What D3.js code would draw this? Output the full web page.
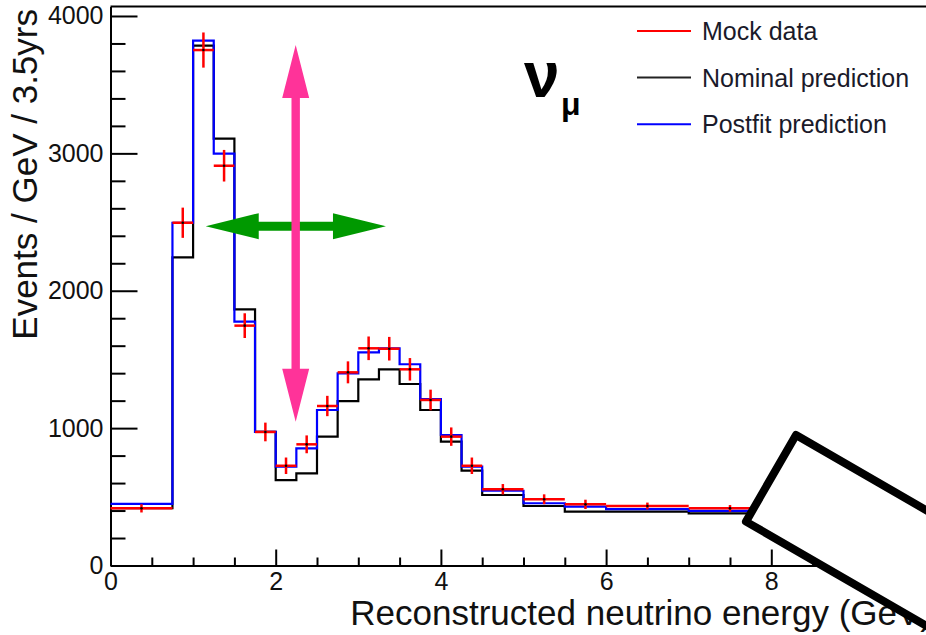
<!DOCTYPE html>
<html>
<head>
<meta charset="utf-8">
<script src="https://cdn.jsdelivr.net/npm/d3@7"></script>
<style>
  body { margin: 0; background: #fff; }
  text { font-family: "Liberation Sans", Arial, sans-serif; }
</style>
</head>
<body>
<svg id="chart" width="926" height="635"></svg>
<script>
// bin edges in GeV
const edges = [0, 0.75, 1, 1.25, 1.5, 1.75, 2, 2.25, 2.5, 2.75, 3, 3.25, 3.5, 3.75, 4, 4.25, 4.5, 5, 5.5, 6, 7, 8];

const mockData = [416, 2495, 3752, 2910, 1746, 972, 726, 882, 1161, 1406, 1581, 1578, 1428, 1205, 938, 726, 555, 482, 445, 433, 416];
const mockErr = [30, 110, 128, 115, 90, 68, 60, 65, 74, 80, 86, 86, 82, 75, 67, 60, 38, 36, 34, 25, 24];
const nominal = [418, 2243, 3784, 3107, 1865, 972, 622, 671, 938, 1197, 1355, 1428, 1321, 1132, 901, 690, 513, 433, 392, 392, 380];
const postfit = [448, 2495, 3820, 2998, 1775, 972, 719, 853, 1132, 1399, 1552, 1581, 1465, 1212, 950, 719, 544, 453, 428, 411, 397];

const xTicks = [0, 2, 4, 6, 8];
const yTicks = [0, 1000, 2000, 3000, 4000];

const legendNames = ["Mock data", "Nominal prediction", "Postfit prediction"];
const legendColors = ["#ff0000", "#222", "#0000ff"];

const svg = d3.select("#chart");

const x = d3.scaleLinear().domain([0, 10]).range([110.5, 936.5]);
const y = d3.scaleLinear().domain([0, 4069]).range([565.5, 6.5]);

// frame top line
svg.append("line")
  .attr("x1", x(0)).attr("x2", x(10))
  .attr("y1", y(4069)).attr("y2", y(4069))
  .attr("stroke", "#000").attr("stroke-width", 2);

// minor ticks
const yMinor = d3.range(0, 4001, 200).filter(d => d % 1000 !== 0);
const xMinor = d3.range(0, 10.01, 0.5).filter(d => d % 2 !== 0);

svg.append("g")
  .attr("transform", `translate(${x(0)},0)`)
  .call(d3.axisLeft(y).tickValues(yMinor).tickSizeInner(-15).tickSizeOuter(0).tickFormat(""))
  .call(g => g.select(".domain").remove())
  .selectAll("line").attr("stroke-width", 2);

svg.append("g")
  .attr("transform", `translate(0,${y(0)})`)
  .call(d3.axisBottom(x).tickValues(xMinor).tickSizeInner(-8).tickSizeOuter(0).tickFormat(""))
  .call(g => g.select(".domain").remove())
  .selectAll("line").attr("stroke-width", 2);

// major axes
const yAxis = svg.append("g")
  .attr("transform", `translate(${x(0)},0)`)
  .call(d3.axisLeft(y).tickValues(yTicks).tickFormat(d3.format("d"))
    .tickSizeInner(-27).tickSizeOuter(0).tickPadding(7));

const xAxis = svg.append("g")
  .attr("transform", `translate(0,${y(0)})`)
  .call(d3.axisBottom(x).tickValues(xTicks).tickFormat(d3.format("d"))
    .tickSizeInner(-16).tickSizeOuter(0).tickPadding(7));

[yAxis, xAxis].forEach(g => {
  g.selectAll("line, .domain").attr("stroke", "#000").attr("stroke-width", 2);
  g.selectAll("text")
    .attr("font-family", "Liberation Sans, Arial, sans-serif")
    .attr("font-size", 25)
    .attr("fill", "#111");
});

// axis titles
svg.append("text")
  .attr("x", 932).attr("y", 625)
  .attr("text-anchor", "end")
  .attr("font-size", 35)
  .attr("fill", "#111")
  .text("Reconstructed neutrino energy (GeV)");

svg.append("text")
  .attr("transform", "translate(37,9) rotate(-90)")
  .attr("text-anchor", "end")
  .attr("font-size", 35)
  .attr("fill", "#111")
  .text("Events / GeV / 3.5yrs");

// histograms as step outlines
function stepPoints(vals) {
  const pts = [];
  vals.forEach((v, i) => {
    pts.push([edges[i], v]);
    pts.push([edges[i + 1], v]);
  });
  return pts;
}

const line = d3.line().x(d => x(d[0])).y(d => y(d[1]));

svg.append("path")
  .attr("d", line(stepPoints(nominal)))
  .attr("fill", "none").attr("stroke", "#000").attr("stroke-width", 2.2);

svg.append("path")
  .attr("d", line(stepPoints(postfit)))
  .attr("fill", "none").attr("stroke", "#0000ff").attr("stroke-width", 2.2);

// mock data points with error bars
const pts = svg.append("g").selectAll("g")
  .data(mockData.map((v, i) => ({ lo: edges[i], hi: edges[i + 1], v, e: mockErr[i] })))
  .join("g");

pts.append("line")
  .attr("x1", d => x(d.lo)).attr("x2", d => x(d.hi))
  .attr("y1", d => y(d.v)).attr("y2", d => y(d.v))
  .attr("stroke", "#ff0000").attr("stroke-width", 2.5);

pts.append("line")
  .attr("x1", d => x((d.lo + d.hi) / 2)).attr("x2", d => x((d.lo + d.hi) / 2))
  .attr("y1", d => y(d.v - d.e)).attr("y2", d => y(d.v + d.e))
  .attr("stroke", "#ff0000").attr("stroke-width", 2.5);

pts.append("circle")
  .attr("cx", d => x((d.lo + d.hi) / 2)).attr("cy", d => y(d.v))
  .attr("r", 1.3).attr("fill", "#000");

// double-headed arrows
function doubleArrow(x0, y0, x1, y1, head, headHalf, shaftHalf, color) {
  const dx = x1 - x0, dy = y1 - y0, len = Math.hypot(dx, dy);
  const ux = dx / len, uy = dy / len, nx = -uy, ny = ux;
  const p = (t, s) => [x0 + ux * t + nx * s, y0 + uy * t + ny * s];
  const poly = [
    p(0, 0), p(head, headHalf), p(head, shaftHalf), p(len - head, shaftHalf),
    p(len - head, headHalf), p(len, 0), p(len - head, -headHalf), p(len - head, -shaftHalf),
    p(head, -shaftHalf), p(head, -headHalf)
  ];
  svg.append("polygon")
    .attr("points", poly.map(q => q.join(",")).join(" "))
    .attr("fill", color);
}

doubleArrow(x(1.153), y(2470), x(3.335), y(2470), 53, 13, 4.5, "#009900");
doubleArrow(x(2.242), y(3789), x(2.242), y(1047), 53, 13.5, 4.2, "#ff3399");

// nu_mu label
svg.append("text")
  .attr("x", 524).attr("y", 97)
  .attr("font-size", 64).attr("font-weight", "bold")
  .attr("fill", "#000")
  .text("ν");
svg.append("text")
  .attr("x", 561).attr("y", 115)
  .attr("font-size", 32).attr("font-weight", "bold")
  .attr("fill", "#000")
  .text("μ");

// legend
const legend = svg.append("g").selectAll("g")
  .data(legendNames)
  .join("g")
  .attr("transform", (d, i) => `translate(637,${31 + i * 46.6})`);

legend.append("line")
  .attr("x1", 0).attr("x2", 54)
  .attr("stroke", (d, i) => legendColors[i]).attr("stroke-width", 2);

legend.append("text")
  .attr("x", 65).attr("dy", "0.36em")
  .attr("font-size", 25)
  .attr("fill", "#1a1a2a")
  .text(d => d);

// white box overlay at lower right
svg.append("rect")
  .attr("transform", `translate(${x(8.299)},${y(950)}) rotate(30)`)
  .attr("width", 420).attr("height", 100)
  .attr("fill", "#fff")
  .attr("stroke", "#000").attr("stroke-width", 8)
  .attr("stroke-linejoin", "round");
</script>
</body>
</html>
